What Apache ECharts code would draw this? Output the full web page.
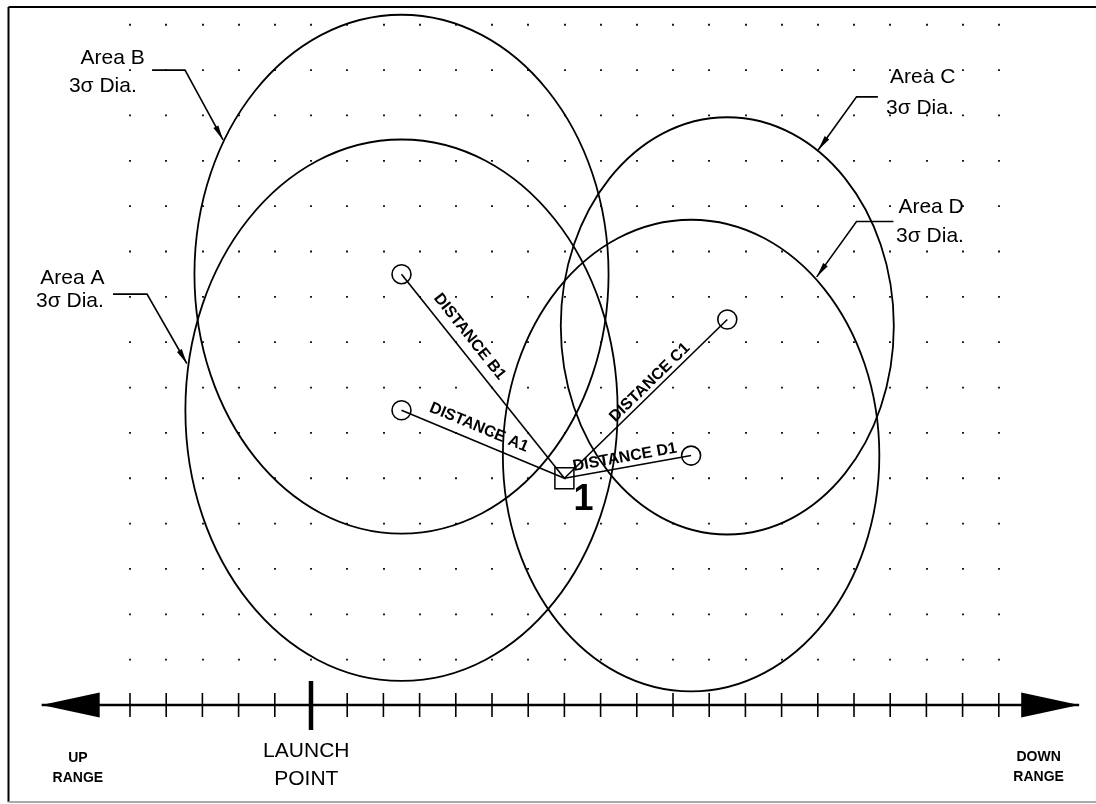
<!DOCTYPE html>
<html><head><meta charset="utf-8">
<script src="https://cdn.jsdelivr.net/npm/echarts@6/dist/echarts.min.js"></script>
<style>html,body{margin:0;padding:0;background:#fff}#chart{width:1096px;height:804px}</style>
</head><body><div id="chart"></div>
<script>
// x: downrange ticks (launch point = 0); y: crossrange grid rows
const gridXMin = -5, gridXMax = 19;
const gridYMin = 0.5, gridYMax = 15.5;
const tickValues = [-5,-4,-3,-2,-1,0,1,2,3,4,5,6,7,8,9,10,11,12,13,14,15,16,17,18,19];
const launchPoint = 0;
const rangeAxisStart = -7.44, rangeAxisEnd = 21.22, rangeAxisLevel = 0;

const areaNames = ['Area A', 'Area B', 'Area C', 'Area D'];
const areaCenterX = [2.5, 2.5, 11.5, 10.5];
const areaCenterY = [6.5, 9.5, 8.36, 5.5];
const areaRadius = [5.97, 5.72, 4.6, 5.2];
const aimX = [2.5, 2.5, 11.5, 10.5];
const aimY = [6.5, 9.5, 8.5, 5.5];
const impactX = 7, impactY = 5, impactLabel = '1';
const distanceNames = ['DISTANCE A1', 'DISTANCE B1', 'DISTANCE C1', 'DISTANCE D1'];
const distanceLabelX = [4.64, 4.38, 9.36, 8.67];
const distanceLabelY = [6.12, 8.12, 7.11, 5.46];
const areaSubtitle = '3\u03c3 Dia.';
const areaTitleX = [-6.59, -5.48, 16.90, 17.13];
const areaTitleY = [9.42, 14.26, 13.84, 10.98];
const areaSubX = [-6.66, -5.75, 16.82, 17.10];
const areaSubY = [8.90, 13.65, 13.17, 10.34];
const leaderX = [[-5.47, -4.53, -3.43], [-4.39, -3.48, -2.43], [15.66, 15.07, 14.01], [16.09, 15.07, 13.97]];
const leaderY = [[9.06, 9.06, 7.53], [14.0, 14.0, 12.46], [13.41, 13.41, 12.24], [10.66, 10.66, 9.44]];
const rangeLabels = ['UP\nRANGE', 'LAUNCH\nPOINT', 'DOWN\nRANGE'];
const rangeLabelX = [-6.44, -0.13, 20.1];
const rangeLabelY = [-1.39, -1.32, -1.37];

const FONT = "'Liberation Sans', Arial, sans-serif";
const chart = echarts.init(document.getElementById('chart'), null, {renderer: 'canvas'});
const rowPeriod = 45.35;

function txt(x, y, text, font, rotation) {
  return {type: 'text', x: x, y: y, rotation: rotation || 0,
    style: {text: text, font: font, fill: '#000', align: 'center', verticalAlign: 'middle',
      textAlign: 'center', textVerticalAlign: 'middle'}};
}

const option = {
  animation: false,
  backgroundColor: '#fff',
  grid: {left: 130, top: 2.075, width: 868.8, height: 680.25, containLabel: false},
  xAxis: {type: 'value', min: gridXMin, max: gridXMax, interval: 1,
    axisLine: {show: false}, axisTick: {show: false}, axisLabel: {show: false},
    splitLine: {show: true, lineStyle: {color: '#000', width: 1.8, type: [1.8, rowPeriod - 1.8], dashOffset: rowPeriod / 2 + 0.9}}},
  yAxis: {type: 'value', min: gridYMin, max: gridYMax,
    axisLine: {show: false}, axisTick: {show: false}, axisLabel: {show: false}, splitLine: {show: false}},
  graphic: [
    {type: 'line', shape: {x1: 8.5, y1: 7, x2: 1096, y2: 7}, style: {stroke: '#000', lineWidth: 2}},
    {type: 'line', shape: {x1: 8.5, y1: 7, x2: 8.5, y2: 802}, style: {stroke: '#000', lineWidth: 2}},
    {type: 'line', shape: {x1: 8.5, y1: 802, x2: 1096, y2: 802}, style: {stroke: '#aaa', lineWidth: 2}}
  ],
  series: [
    { // 3-sigma areas
      type: 'custom', coordinateSystem: 'cartesian2d', silent: true, z: 2,
      data: areaNames.map((n, i) => [areaCenterX[i], areaCenterY[i], areaRadius[i]]),
      renderItem: function (params, api) {
        const c = api.coord([api.value(0), api.value(1)]);
        const s = api.size([api.value(2), api.value(2)]);
        return {type: 'ellipse', shape: {cx: c[0], cy: c[1], rx: s[0], ry: s[1]},
          style: {fill: 'none', stroke: '#000', lineWidth: 1.8}};
      }
    },
    { // distance lines + aim circles
      type: 'custom', coordinateSystem: 'cartesian2d', silent: true, z: 3,
      data: aimX.map((x, i) => [x, aimY[i]]),
      renderItem: function (params, api) {
        const a = api.coord([api.value(0), api.value(1)]);
        const b = api.coord([impactX, impactY]);
        return {type: 'group', children: [
          {type: 'line', shape: {x1: a[0], y1: a[1], x2: b[0], y2: b[1]}, style: {stroke: '#000', lineWidth: 1.6}},
          {type: 'circle', shape: {cx: a[0], cy: a[1], r: 9.5}, style: {fill: 'none', stroke: '#000', lineWidth: 1.6}}
        ]};
      }
    },
    { // distance labels
      type: 'custom', coordinateSystem: 'cartesian2d', silent: true, z: 4,
      data: distanceLabelX.map((x, i) => [x, distanceLabelY[i]]),
      renderItem: function (params, api) {
        const i = params.dataIndex;
        const p = api.coord([api.value(0), api.value(1)]);
        const a = api.coord([aimX[i], aimY[i]]);
        const b = api.coord([impactX, impactY]);
        let dx = b[0] - a[0], dy = b[1] - a[1];
        if (dx < 0) { dx = -dx; dy = -dy; }
        return txt(p[0], p[1], distanceNames[i], 'bold 16px ' + FONT, -Math.atan2(dy, dx));
      }
    },
    { // impact point 1
      type: 'custom', coordinateSystem: 'cartesian2d', silent: true, z: 5,
      data: [[impactX, impactY]],
      renderItem: function (params, api) {
        const p = api.coord([api.value(0), api.value(1)]);
        return {type: 'group', children: [
          {type: 'rect', shape: {x: p[0] - 9.5, y: p[1] - 10.5, width: 19, height: 21}, style: {fill: 'none', stroke: '#000', lineWidth: 1.5}},
          txt(p[0] + 19, p[1] + 22, impactLabel, 'bold 36px ' + FONT)
        ]};
      }
    },
    { // leaders with arrowheads
      type: 'custom', coordinateSystem: 'cartesian2d', silent: true, z: 4,
      data: leaderX.map((xs, i) => [xs[2], leaderY[i][2]]),
      renderItem: function (params, api) {
        const i = params.dataIndex;
        const pts = leaderX[i].map((x, k) => api.coord([x, leaderY[i][k]]));
        const t = pts[2], f = pts[1];
        const len = Math.hypot(t[0] - f[0], t[1] - f[1]);
        const ux = (t[0] - f[0]) / len, uy = (t[1] - f[1]) / len;
        const L = 15, W = 2.8;
        const bx = t[0] - ux * L, by = t[1] - uy * L;
        return {type: 'group', children: [
          {type: 'polyline', shape: {points: pts}, style: {fill: 'none', stroke: '#000', lineWidth: 1.6}},
          {type: 'polygon', shape: {points: [[t[0], t[1]], [bx - uy * W, by + ux * W], [bx + uy * W, by - ux * W]]}, style: {fill: '#000'}}
        ]};
      }
    },
    { // area labels
      type: 'custom', coordinateSystem: 'cartesian2d', silent: true, z: 4,
      data: areaTitleX.map((x, i) => [x, areaTitleY[i]]),
      renderItem: function (params, api) {
        const i = params.dataIndex;
        const p = api.coord([api.value(0), api.value(1)]);
        const q = api.coord([areaSubX[i], areaSubY[i]]);
        return {type: 'group', children: [
          txt(p[0], p[1], areaNames[i], '21px ' + FONT),
          txt(q[0], q[1], areaSubtitle, '21px ' + FONT)
        ]};
      }
    },
    { // range axis with arrows
      type: 'custom', coordinateSystem: 'cartesian2d', silent: true, z: 6,
      data: [[rangeAxisStart, rangeAxisEnd, rangeAxisLevel]],
      renderItem: function (params, api) {
        const a = api.coord([api.value(0), api.value(2)]);
        const b = api.coord([api.value(1), api.value(2)]);
        const L = 58, H = 12.5;
        return {type: 'group', children: [
          {type: 'line', shape: {x1: a[0], y1: a[1], x2: b[0], y2: b[1]}, style: {stroke: '#000', lineWidth: 2.5}},
          {type: 'polygon', shape: {points: [[a[0], a[1]], [a[0] + L, a[1] - H], [a[0] + L, a[1] + H]]}, style: {fill: '#000'}},
          {type: 'polygon', shape: {points: [[b[0], b[1]], [b[0] - L, b[1] - H], [b[0] - L, b[1] + H]]}, style: {fill: '#000'}}
        ]};
      }
    },
    { // ticks
      type: 'custom', coordinateSystem: 'cartesian2d', silent: true, z: 6,
      data: tickValues.filter(v => v !== launchPoint).map(v => [v, rangeAxisLevel]),
      renderItem: function (params, api) {
        const p = api.coord([api.value(0), api.value(1)]);
        return {type: 'line', shape: {x1: p[0], y1: p[1] - 12, x2: p[0], y2: p[1] + 12}, style: {stroke: '#000', lineWidth: 1.6}};
      }
    },
    { // launch tick
      type: 'custom', coordinateSystem: 'cartesian2d', silent: true, z: 7,
      data: [[launchPoint, rangeAxisLevel]],
      renderItem: function (params, api) {
        const p = api.coord([api.value(0), api.value(1)]);
        return {type: 'line', shape: {x1: p[0], y1: p[1] - 24, x2: p[0], y2: p[1] + 25}, style: {stroke: '#000', lineWidth: 4.5}};
      }
    },
    { // range labels
      type: 'custom', coordinateSystem: 'cartesian2d', silent: true, z: 6,
      data: rangeLabelX.map((x, i) => [x, rangeLabelY[i]]),
      renderItem: function (params, api) {
        const i = params.dataIndex;
        const p = api.coord([api.value(0), api.value(1)]);
        const isLaunch = i === 1;
        const t = txt(p[0], p[1], rangeLabels[i], (isLaunch ? '21px ' : 'bold 14px ') + FONT);
        t.style.lineHeight = isLaunch ? 28 : 20;
        return t;
      }
    }
  ]
};
chart.setOption(option);
</script>
</body></html>
